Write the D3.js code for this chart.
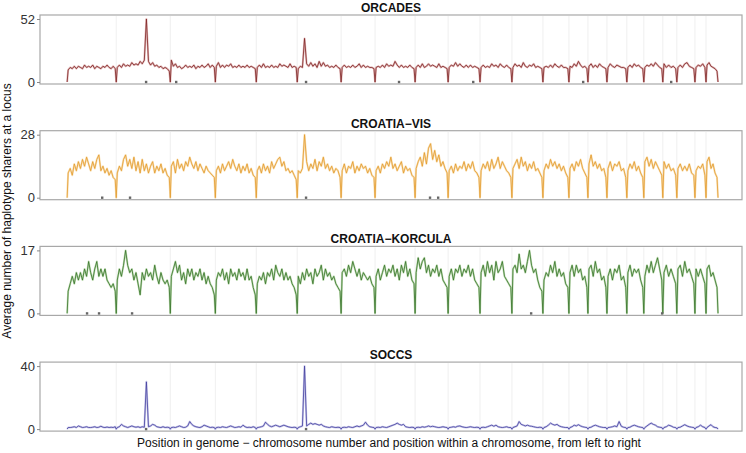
<!DOCTYPE html>
<html>
<head>
<meta charset="utf-8">
<script src="https://d3js.org/d3.v7.min.js"></script>
<style>
  body { margin: 0; background: #fff; }
  svg { font-family: "Liberation Sans", Arial, sans-serif; }
  .title { font-size: 12px; font-weight: bold; fill: #111; }
  .tick text { font-size: 13px; fill: #333; }
  .tick line { stroke: #888; }
</style>
</head>
<body>
<div id="chart"></div>
<script>
// chromosome lengths (approx Mb, as laid out in the figure)
const chromLen = [217,239,199,181,181,194,150,177,146,141,141,137,115,84,84,88,75,84,62,80,49,53];

// value at every chromosome edge (sharing drops to zero there)
const edgeValue = 0;

// average number of haplotype sharers, one array per chromosome, evenly spaced along it
const orcades = [
  [10,12,11,13,11,13,12,11,14,12,13,12,14,11,13,12,11,13,12,14,12,11,13,11],
  [12,14,12,15,13,14,13,16,14,15,14,17,15,18,52,17,14,16,13,14,12,13,11,12,11,9],
  [18,13,15,12,13,11,12,14,12,13,12,14,11,13,12,14,12,13,15,12,14,12],
  [13,16,12,14,12,14,13,15,12,13,12,14,12,13,12,14,12,13,12,11],
  [12,14,12,15,12,13,12,14,12,13,12,15,13,14,13,12,15,12,13,12],
  [11,13,12,36,15,13,16,13,15,12,17,13,16,13,14,12,13,12,14,12,11],
  [12,14,12,13,12,14,12,13,15,12,14,12,13,12,12,11],
  [12,13,12,14,12,15,13,14,13,17,14,12,14,12,13,12,14,12,11],
  [12,14,12,15,12,13,15,13,14,13,12,15,12,13,12,11],
  [12,14,13,16,13,15,13,12,14,12,14,12,13,12,11],
  [12,14,12,13,12,15,13,14,12,15,13,12,14,12,11],
  [12,15,13,14,12,16,13,12,14,13,15,12,13,12,11],
  [12,13,12,14,12,15,13,12,14,12,12,11],
  [13,12,15,13,17,14,12,13,11],
  [13,15,12,14,12,15,13,12,11],
  [12,15,13,12,14,13,12,12,11],
  [12,14,12,15,13,14,12,11],
  [12,14,13,15,13,16,14,12,11],
  [15,12,14,12,13,11],
  [12,14,12,15,16,13,12,11],
  [12,14,13,15,12],
  [14,16,13,12,11,9]
];
const vis = [
  [11,13,10,15,12,16,13,17,14,18,15,12,16,13,17,19,12,14,11,13,10,12,9,8],
  [11,14,12,17,19,14,17,13,18,12,16,11,17,12,15,11,14,16,11,14,12,15,11,13,10,9],
  [14,16,11,17,13,15,12,16,14,18,15,13,16,12,15,13,11,14,12,11,10,9],
  [12,14,11,15,12,14,16,13,17,14,12,15,11,14,12,15,11,13,10,9],
  [12,14,11,15,12,14,11,16,13,15,17,18,14,16,12,13,11,12,10,8],
  [12,11,13,28,16,12,15,13,17,12,16,14,18,13,15,12,14,11,13,12,9],
  [12,15,11,14,13,16,11,14,12,15,13,14,11,13,10,9],
  [12,14,11,15,13,16,14,18,13,15,12,14,16,11,14,12,13,10,9],
  [13,16,18,14,20,15,22,24,17,21,16,19,14,16,13,11],
  [12,14,11,15,12,14,13,16,12,15,13,16,12,11,9],
  [12,15,13,16,12,17,13,15,18,13,16,14,12,11,9],
  [13,15,17,13,18,14,16,12,15,13,16,12,13,11,9],
  [12,15,13,17,14,16,13,15,12,14,11,9],
  [13,15,12,16,14,17,13,11,9],
  [15,19,14,16,13,15,12,13,9],
  [13,16,12,15,14,16,12,13,9],
  [12,15,13,16,12,14,11,9],
  [16,18,14,17,13,16,14,12,10],
  [16,13,15,12,13,10],
  [13,15,12,14,12,15,11,10],
  [12,14,13,15,10],
  [16,18,13,15,11,9]
];
const korcula = [
  [6,8,10,8,11,9,11,9,12,10,14,11,9,12,14,10,12,10,12,9,8,7,8,6],
  [9,12,10,13,17,13,11,12,9,11,8,5,11,9,12,10,11,9,13,10,8,11,9,8,9,7],
  [10,12,14,11,13,9,11,8,12,10,12,9,11,10,12,9,11,8,10,8,7,5],
  [9,11,10,12,9,11,8,12,10,11,9,12,10,11,9,12,9,10,7,5],
  [8,10,9,11,8,11,10,12,9,13,11,10,12,9,11,9,10,8,7,5],
  [10,8,11,9,12,10,11,8,12,10,11,13,9,12,10,11,9,10,8,7,6],
  [11,12,10,13,11,14,12,10,12,9,11,10,9,10,8,7],
  [10,12,9,11,13,10,12,11,13,10,12,9,13,11,14,10,12,9,8],
  [11,15,12,14,15,11,13,10,12,11,13,10,12,9,8,7],
  [10,12,9,12,11,13,10,12,11,13,10,12,9,8,7],
  [11,13,10,14,11,13,9,14,11,12,14,10,9,8,7],
  [12,13,11,16,12,13,11,14,17,13,11,12,9,7,6],
  [9,11,10,13,11,14,10,12,10,11,8,7],
  [11,13,10,13,11,12,9,10,7],
  [12,13,10,14,11,12,9,10,7],
  [10,12,9,12,11,13,9,10,7],
  [11,13,10,12,11,12,9,7],
  [10,13,11,14,11,13,15,12,9],
  [11,13,10,12,10,8],
  [12,13,10,14,11,12,10,8],
  [12,10,12,10,8],
  [12,13,10,11,9,7]
];
const soccs = [
  [1,1,1.2,1.5,1,2,1.5,1,1.2,1.5,1,1,1.2,1.5,1,1.2,1.8,1.2,1,1.3,1,1.2,1,1.5],
  [1,1.5,3,2,1.5,1,1.5,2,1.5,1.2,1.5,1,1.5,1.2,30,1.5,2,3,2.5,1.5,1.2,1,1.5,1,1.2,1],
  [1,1.2,1,1.5,2,1.5,1,1.2,2,4.8,3,2,1.5,1.2,1,1.5,2.5,2,1.5,1,1.2,1],
  [1,1.2,1,1.5,1.2,1,1.5,2,1.5,1,1.2,1.5,1.2,2.5,1.5,1,1.2,1,1.5,1],
  [1,1.2,1.5,2,4.4,3,2,1.5,2,2.5,2,1.5,2,2.5,2,1.5,1.2,1,1.2,1],
  [1,1.5,2,40,2,3,3.8,3,3.5,3,2.5,3,2,1.5,1.2,1,1.5,1.2,1,1.2,1],
  [1,1.2,1,1.5,1.2,1,1.5,2,1.5,2,2.5,4.4,2.5,1.5,1.2,1],
  [1,1.2,1,1.5,1.2,1,1.5,2,2.5,3,3.8,3,2.5,3,1.5,1.2,1,1.2,1],
  [1,1.2,1,1.5,1.2,1.5,2,1.5,1.8,1.5,1.2,1,1.2,1.5,1.2,1],
  [1,1.2,1.5,1.2,1.8,2,1.5,1.2,1,1.2,1.5,1.2,1,1.2,1],
  [1,1.2,1,1.5,2,2.5,1.8,2.5,1.5,1.2,1,1.2,1.5,1,1],
  [1,1.5,2,4.8,3,2.5,2,2.5,2,1.8,1.5,1.2,1,1.2,1],
  [1,1.5,2.5,3.8,3,2.5,3,2,1.5,1.2,1,1],
  [1,1.5,2.5,2,2.8,2,1.5,1.2,1],
  [1,1.2,2,2.5,2,1.5,1.2,1,1],
  [1,1.2,1.5,2,1.5,4.8,1.8,1.2,1],
  [1,1.2,2,2.5,2,1.5,1.2,1],
  [1,2,3,3.8,3,2.5,1.5,1.2,1],
  [1,1.5,2.5,2,1.2,1],
  [1,1.2,2,2.8,2,1.5,1.2,1],
  [1,1.5,2.5,1.5,1],
  [1,2,2.8,1.5,1,0.8]
];

// marked loci (genome position, Mb) shown as small squares on the baseline
const orcadesDots = [349,482,1056,1467,1795,2281,2670];
const visDots = [155,278,1056,1604,1640];
const korculaDots = [88,141,287,2051,2630];
const soccsDots = [349,1056];

const titles = ["ORCADES","CROATIA\u2212VIS","CROATIA\u2212KORCULA","SOCCS"];
const yMax = [52,28,17,40];
const colors = ["#7e2323","#e39a2c","#357227","#433fa0"];
const halos = ["#dcaaaa","#f6d8a4","#b3d4a4","#bdbbe4"];

const W = 746, H = 453;
const svg = d3.select("#chart").append("svg").attr("width", W).attr("height", H);

// cumulative chromosome starts
const chromStart = [];
chromLen.reduce((acc, l) => { chromStart.push(acc); return acc + l; }, 0);
const genomeLen = d3.sum(chromLen);

const x = d3.scaleLinear().domain([-120, genomeLen + 106]).range([40, 742]);

function toPoints(series) {
    const pts = [];
    series.forEach((vals, c) => {
        const n = vals.length;
        pts.push({pos: chromStart[c], v: edgeValue});
        vals.forEach((v, j) => {
            pts.push({pos: chromStart[c] + ((j + 0.5) / n) * chromLen[c], v: v});
        });
    });
    pts.push({pos: genomeLen, v: edgeValue});
    return pts;
}

const panels = [
    {data: orcades, dots: orcadesDots},
    {data: vis, dots: visDots},
    {data: korcula, dots: korculaDots},
    {data: soccs, dots: soccsDots}
];

panels.forEach((p, i) => {
    const top = 15 + i * 115.7;
    const fh = 69;
    const y = d3.scaleLinear().domain([0, yMax[i]]).range([top + 67, top + 4]);
    const g = svg.append("g");

    g.append("rect")
        .attr("x", 40).attr("y", top)
        .attr("width", 702).attr("height", fh)
        .attr("fill", "#fff")
        .attr("stroke", "#a8a8a8")
        .attr("stroke-width", 1.2);

    // faint lines at chromosome boundaries
    g.selectAll(".grid")
        .data(chromStart.slice(1))
        .enter().append("line")
        .attr("x1", d => x(d)).attr("x2", d => x(d))
        .attr("y1", top + 1).attr("y2", top + fh - 1)
        .attr("stroke", "#ebebeb")
        .attr("stroke-width", 0.8);

    g.append("text")
        .attr("class", "title")
        .attr("x", 391).attr("y", top - 3)
        .attr("text-anchor", "middle")
        .text(titles[i]);

    const axis = g.append("g")
        .attr("transform", "translate(40,0)")
        .call(d3.axisLeft(y).tickValues([0, yMax[i]]).tickSize(3).tickPadding(2));
    axis.select(".domain").remove();

    const pts = toPoints(p.data);
    const line = d3.line().x(d => x(d.pos)).y(d => y(d.v));

    g.append("path")
        .datum(pts)
        .attr("d", line)
        .attr("fill", "none")
        .attr("stroke", halos[i])
        .attr("stroke-width", 2)
        .attr("stroke-linejoin", "round")
        .attr("opacity", 0.8);

    g.append("path")
        .datum(pts)
        .attr("d", line)
        .attr("fill", "none")
        .attr("stroke", colors[i])
        .attr("stroke-width", 0.8)
        .attr("stroke-linejoin", "round");

    g.selectAll(".dot")
        .data(p.dots)
        .enter().append("rect")
        .attr("x", d => x(d) - 1.2)
        .attr("y", y(0) - 1.2)
        .attr("width", 2.4).attr("height", 2.4)
        .attr("fill", "#666");
});

svg.append("text")
    .attr("x", 389).attr("y", 447)
    .attr("text-anchor", "middle")
    .style("font-size", "12px")
    .attr("fill", "#111")
    .text("Position in genome \u2212 chromosome number and position within a chromosome, from left to right");

svg.append("text")
    .attr("transform", "translate(11,211) rotate(-90)")
    .attr("text-anchor", "middle")
    .style("font-size", "12px")
    .attr("fill", "#111")
    .text("Average number of haplotype sharers at a locus");
</script>
</body>
</html>
